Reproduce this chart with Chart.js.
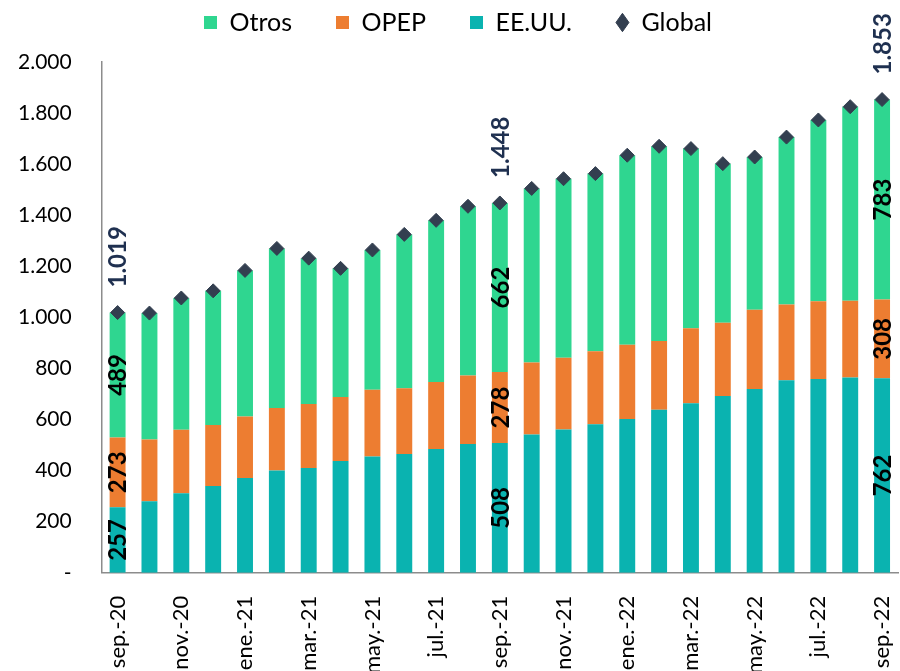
<!DOCTYPE html>
<html>
<head>
<meta charset="utf-8">
<script src="https://cdn.jsdelivr.net/npm/chart.js@4.4.0/dist/chart.umd.min.js"></script>
<style>
  html, body { margin: 0; padding: 0; background: #ffffff; }
  #wrap { width: 900px; height: 671px; position: relative; }
</style>
</head>
<body>
<div id="wrap"><canvas id="c" width="900" height="671"></canvas></div>
<script>
const categories = ["sep.-20","oct.-20","nov.-20","dic.-20","ene.-21","feb.-21","mar.-21","abr.-21","may.-21","jun.-21","jul.-21","ago.-21","sep.-21","oct.-21","nov.-21","dic.-21","ene.-22","feb.-22","mar.-22","abr.-22","may.-22","jun.-22","jul.-22","ago.-22","sep.-22"];
const eeuu   = [257,280,311,340,371,400,410,438,455,465,485,504,508,541,561,582,602,638,664,692,720,754,759,765,762];
const opep   = [273,242,249,239,241,245,251,250,262,258,262,268,278,282,281,285,291,270,293,287,310,296,304,300,308];
const otros  = [489,495,516,525,572,625,571,504,547,602,633,663,662,682,701,696,742,762,704,623,598,656,710,760,783];
const global = [1019,1017,1076,1104,1184,1270,1232,1192,1264,1325,1380,1435,1448,1505,1543,1563,1635,1670,1661,1602,1628,1706,1773,1825,1853];
const labelledIdx = [0, 12, 24];

const FONT = "Lato, 'Open Sans', sans-serif";

function fmt(v) {
  if (v === 0) return "-";
  return String(Math.round(v)).replace(/\B(?=(\d{3})+(?!\d))/g, ".");
}

const labelPlugin = {
  id: 'valueLabels',
  afterInit(chart) {
    const lg = chart.legend;
    if (lg && !lg._patched) {
      const orig = lg.fit.bind(lg);
      lg.fit = function() { orig(); this.height += 17; };
      const od = lg.draw.bind(lg);
      lg.draw = function(a) { const c = this.ctx; c.save(); c.translate(11, 0); od(a); c.restore(); };
      lg._patched = true;
    }
  },
  afterDatasetsDraw(chart) {
    const ctx = chart.ctx;
    ctx.save();
    ctx.font = "bold 24px " + FONT;
    ctx.textBaseline = 'middle';
    [0,1,2].forEach(di => {
      const meta = chart.getDatasetMeta(di);
      labelledIdx.forEach(i => {
        const el = meta.data[i];
        const cy = (el.y + el.base) / 2;
        ctx.save();
        ctx.translate(el.x, cy);
        ctx.rotate(-Math.PI / 2);
        ctx.textAlign = 'center';
        ctx.fillStyle = '#000000';
        ctx.fillText(fmt(chart.data.datasets[di].data[i]), 0, 1);
        ctx.restore();
      });
    });
    const gm = chart.getDatasetMeta(3);
    labelledIdx.forEach(i => {
      const p = gm.data[i];
      ctx.save();
      ctx.translate(p.x, p.y - 25);
      ctx.rotate(-Math.PI / 2);
      ctx.textAlign = 'left';
      ctx.fillStyle = '#1F3050';
      ctx.fillText(fmt(global[i]), 0, 1);
      ctx.restore();
    });
    ctx.restore();
  }
};

const legendRank = { 'Otros': 0, 'OPEP': 1, 'EE.UU.': 2, 'Global': 3 };

new Chart(document.getElementById('c'), {
  type: 'bar',
  data: {
    labels: categories,
    datasets: [
      { label: 'EE.UU.', data: eeuu, backgroundColor: '#0AB3B0', pointStyle: 'rect', stack: 's', barPercentage: 0.5, categoryPercentage: 1.0 },
      { label: 'OPEP', data: opep, backgroundColor: '#ED7D31', pointStyle: 'rect', stack: 's', barPercentage: 0.5, categoryPercentage: 1.0 },
      { label: 'Otros', data: otros, backgroundColor: '#2FD690', pointStyle: 'rect', stack: 's', barPercentage: 0.5, categoryPercentage: 1.0 },
      { label: 'Global', type: 'line', data: global, showLine: false, stack: 'g', order: -1, clip: false,
        pointStyle: 'rectRot', pointRadius: 7, pointHoverRadius: 7,
        backgroundColor: '#333F50', borderColor: '#333F50', pointBackgroundColor: '#333F50', pointBorderColor: '#333F50' }
    ]
  },
  options: {
    responsive: false,
    animation: false,
    devicePixelRatio: 1,
    layout: { autoPadding: false, padding: { left: -4, right: 2, top: -34, bottom: -18 } },
    plugins: {
      legend: {
        position: 'top',
        maxHeight: 96,
        labels: {
          usePointStyle: true,
          pointStyleWidth: 13,
          boxHeight: 13,
          padding: 44,
          color: '#000000',
          font: { family: FONT, size: 25 },
          sort: (a, b) => legendRank[a.text] - legendRank[b.text]
        }
      },
      tooltip: { enabled: false }
    },
    scales: {
      x: {
        stacked: true,
        grid: { display: false },
        border: { display: true, color: '#8C8C8C', width: 1.5 },
        afterFit(scale) { scale.paddingLeft = 0; scale.paddingRight = 0; },
        ticks: {
          autoSkip: false,
          maxRotation: 90,
          minRotation: 90,
          color: '#000000',
          font: { family: FONT, size: 22 },
          padding: 15,
          callback: function(v, i) { return i % 2 === 0 ? categories[i] : ''; }
        }
      },
      y: {
        stacked: true,
        min: 0,
        max: 2000,
        grid: { display: false },
        border: { display: true, color: '#8C8C8C', width: 1.5 },
        ticks: {
          stepSize: 200,
          color: '#000000',
          font: { family: FONT, size: 21 },
          padding: 22,
          callback: v => fmt(v)
        }
      }
    }
  },
  plugins: [labelPlugin]
});
</script>
</body>
</html>
